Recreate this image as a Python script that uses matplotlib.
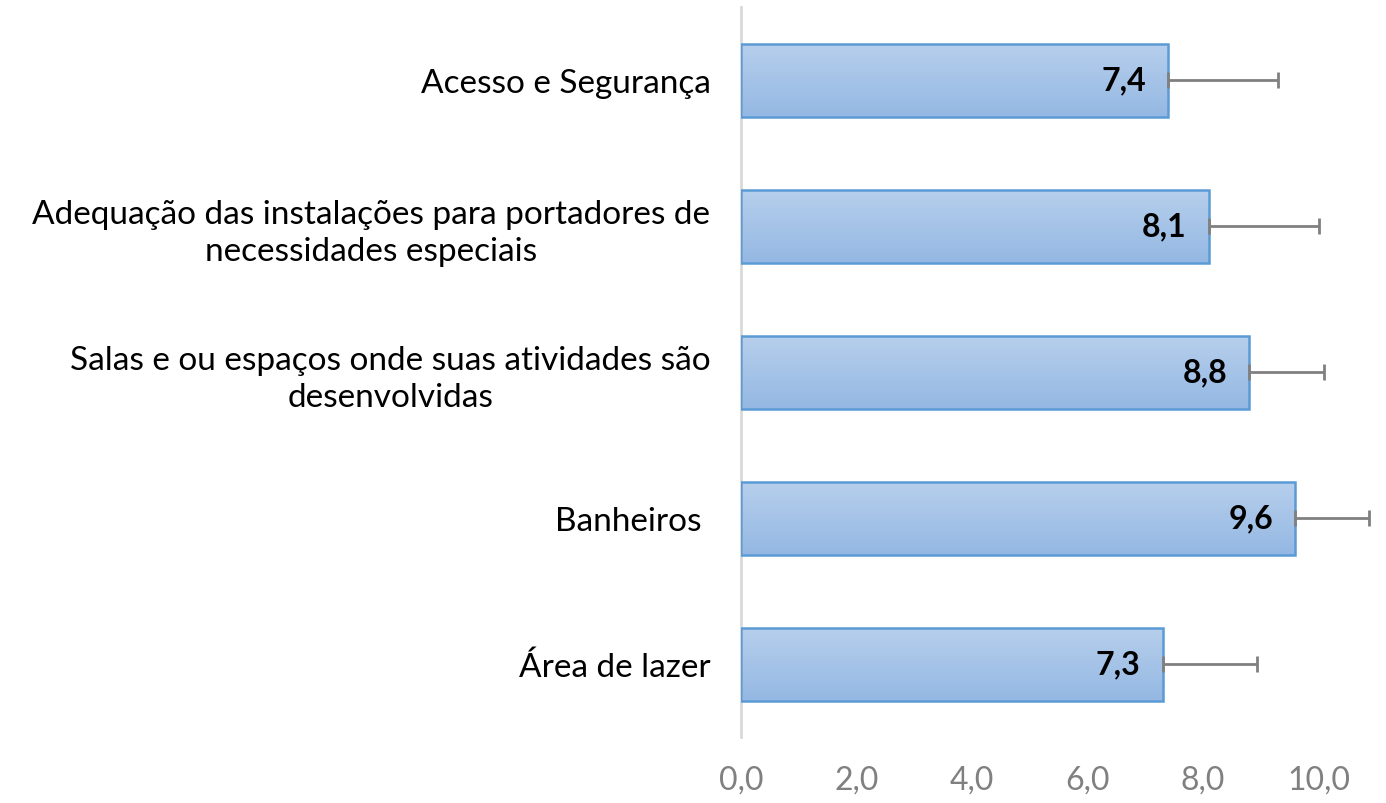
import numpy as np
import matplotlib.pyplot as plt
import matplotlib.colors as mcolors

categories = ['Acesso e Segurança',
              'Adequação das instalações para portadores de\nnecessidades especiais',
              'Salas e ou espaços onde suas atividades são\ndesenvolvidas',
              'Banheiros ',
              'Área de lazer']
values = [7.4, 8.1, 8.8, 9.6, 7.3]
errors = [1.9, 1.9, 1.3, 1.27, 1.64]
value_labels = ['7,4', '8,1', '8,8', '9,6', '7,3']
tick_vals = [0, 2, 4, 6, 8, 10]
tick_labels = ['0,0', '2,0', '4,0', '6,0', '8,0', '10,0']

plt.rcParams['font.family'] = ['Lato', 'DejaVu Sans']

fig = plt.figure(figsize=(13.86, 8.04), dpi=100)
ax = fig.add_axes([0.5346, 0.082, 0.4584, 0.908])

y = np.arange(len(categories))
bars = ax.barh(y, values, height=0.5, color='none', edgecolor='#5B9BD5', linewidth=1.8, zorder=3)

# vertical gradient inside each bar
grad = mcolors.LinearSegmentedColormap.from_list('g', ['#B7CFEC', '#94B8E3'])
for b in bars:
    x0, y0 = b.get_x(), b.get_y()
    w, h = b.get_width(), b.get_height()
    im = ax.imshow(np.linspace(0, 1, 100).reshape(-1, 1), cmap=grad, aspect='auto',
                   extent=[x0, x0 + w, y0, y0 + h], origin='lower', zorder=2)
    im.set_clip_path(b)

ax.errorbar(values, y, xerr=[np.zeros(len(values)), errors], fmt='none',
            ecolor='#808080', elinewidth=2, capsize=6, capthick=2, zorder=4)

for v, yi, lab in zip(values, y, value_labels):
    ax.text(v - 0.38, yi, lab, ha='right', va='center', fontsize=23, fontweight='bold',
            color='black', zorder=5)

ax.set_xlim(0, 11)
ax.set_ylim(4.5, -0.5)
ax.set_yticks(y)
ax.set_yticklabels(categories, fontsize=24, ha='right', multialignment='center',
                   linespacing=1.3)
ax.tick_params(axis='y', length=0, pad=22)
ax.set_xticks(tick_vals)
ax.set_xticklabels(tick_labels, fontsize=23, color='#808080')
ax.tick_params(axis='x', length=0, pad=20)

for s in ['top', 'right', 'bottom']:
    ax.spines[s].set_visible(False)
ax.spines['left'].set_color('#D9D9D9')
ax.spines['left'].set_linewidth(2)

plt.savefig('out.png')
